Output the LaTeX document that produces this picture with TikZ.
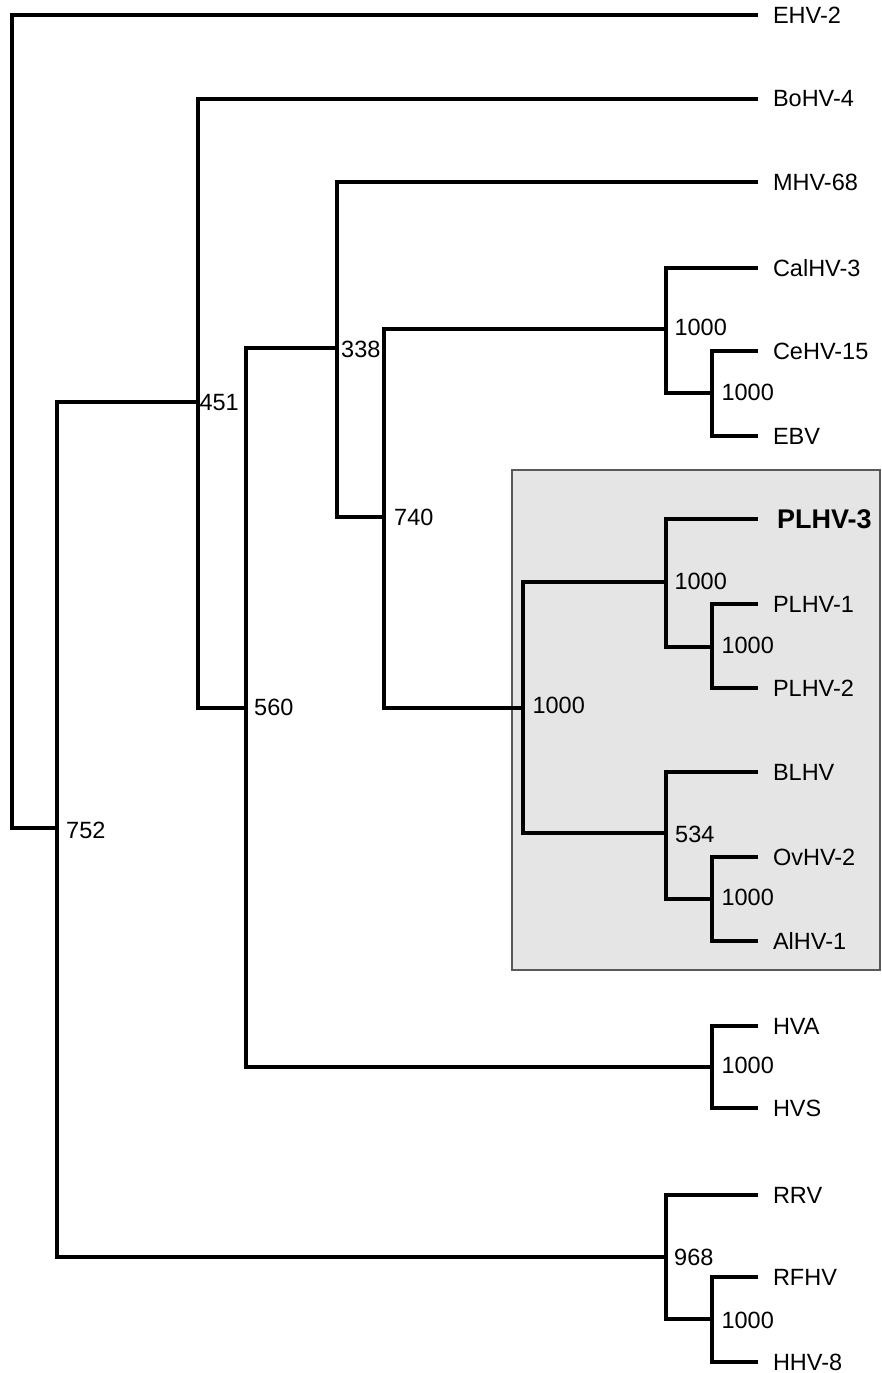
\documentclass[tikz,border=0pt]{standalone}
\usepackage{fontspec}
\setmainfont{Liberation Sans}
\begin{document}
\begin{tikzpicture}[x=1pt,y=-1pt,
  branch/.style={line width=3.2pt, line join=miter},
  leaf/.style={anchor=west, inner sep=0pt, outer xsep=15pt, font=\fontsize{23.5}{28}\selectfont},
  boldleaf/.style={leaf, outer xsep=19pt, font=\fontsize{27}{32}\selectfont\bfseries},
  boot/.style={anchor=west, inner sep=0pt, font=\fontsize{23.5}{28}\selectfont},
  cladebox/.style={fill=black!10, draw=black!65, line width=1.2pt}]
\useasboundingbox (0,0) rectangle (881,1373);
% highlighted clade box
\path[cladebox] (512,470) rectangle (880,970);
% internal nodes
\coordinate (root) at (12,828);
\coordinate (n752) at (57,828);
\coordinate (n451) at (198,402);
\coordinate (n560) at (246,708);
\coordinate (n338) at (337,348);
\coordinate (n740) at (384,517);
\coordinate (nCal) at (666,329);
\coordinate (nCe) at (712,393);
\coordinate (nPL) at (523,708);
\coordinate (nPL3) at (666,582);
\coordinate (nPL1) at (712,647);
\coordinate (nBL) at (666,833);
\coordinate (nOv) at (712,899);
\coordinate (nHVA) at (712,1067);
\coordinate (n968) at (666,1257);
\coordinate (nRF) at (712,1319);
% leaves
\node[leaf] (EHV2) at (758,15) {EHV-2};
\node[leaf] (BoHV4) at (758,99) {BoHV-4};
\node[leaf] (MHV68) at (758,182) {MHV-68};
\node[leaf] (CalHV3) at (758,268) {CalHV-3};
\node[leaf] (CeHV15) at (758,351) {CeHV-15};
\node[leaf] (EBV) at (758,436) {EBV};
\node[boldleaf] (PLHV3) at (758,519) {PLHV-3};
\node[leaf] (PLHV1) at (758,604) {PLHV-1};
\node[leaf] (PLHV2) at (758,688) {PLHV-2};
\node[leaf] (BLHV) at (758,772) {BLHV};
\node[leaf] (OvHV2) at (758,857) {OvHV-2};
\node[leaf] (AlHV1) at (758,941) {AlHV-1};
\node[leaf] (HVA) at (758,1026) {HVA};
\node[leaf] (HVS) at (758,1108) {HVS};
\node[leaf] (RRV) at (758,1195) {RRV};
\node[leaf] (RFHV) at (758,1277) {RFHV};
\node[leaf] (HHV8) at (758,1362) {HHV-8};
% branches
\draw[branch] (EHV2.west) -| (root) |- (n752);
\draw[branch] (n451) -| (n752) |- (n968);
\draw[branch] (BoHV4.west) -| (n451) |- (n560);
\draw[branch] (n338) -| (n560) |- (nHVA);
\draw[branch] (MHV68.west) -| (n338) |- (n740);
\draw[branch] (nCal) -| (n740) |- (nPL);
\draw[branch] (CalHV3.west) -| (nCal) |- (nCe);
\draw[branch] (CeHV15.west) -| (nCe) |- (EBV.west);
\draw[branch] (nPL3) -| (nPL) |- (nBL);
\draw[branch] (PLHV3.west) -| (nPL3) |- (nPL1);
\draw[branch] (PLHV1.west) -| (nPL1) |- (PLHV2.west);
\draw[branch] (BLHV.west) -| (nBL) |- (nOv);
\draw[branch] (OvHV2.west) -| (nOv) |- (AlHV1.west);
\draw[branch] (HVA.west) -| (nHVA) |- (HVS.west);
\draw[branch] (RRV.west) -| (n968) |- (nRF);
\draw[branch] (RFHV.west) -| (nRF) |- (HHV8.west);
% bootstrap values
\node[boot] (b752) at (66,830) {752};
\node[boot] (b451) at (199.4,403) {451};
\node[boot] (b560) at (254,707.5) {560};
\node[boot] (b338) at (341,349) {338};
\node[boot] (b740) at (394,517.5) {740};
\node[boot] (bCal) at (674.4,327.5) {1000};
\node[boot] (bCe) at (721.4,392) {1000};
\node[boot] (bPL) at (532.4,705.5) {1000};
\node[boot] (bPL3) at (674.4,581) {1000};
\node[boot] (bPL1) at (721.4,645.7) {1000};
\node[boot] (bBL) at (675,834) {534};
\node[boot] (bOv) at (721.4,897.7) {1000};
\node[boot] (bHVA) at (721.4,1065.7) {1000};
\node[boot] (b968) at (674,1257) {968};
\node[boot] (bRF) at (721.4,1320) {1000};
\end{tikzpicture}
\end{document}
